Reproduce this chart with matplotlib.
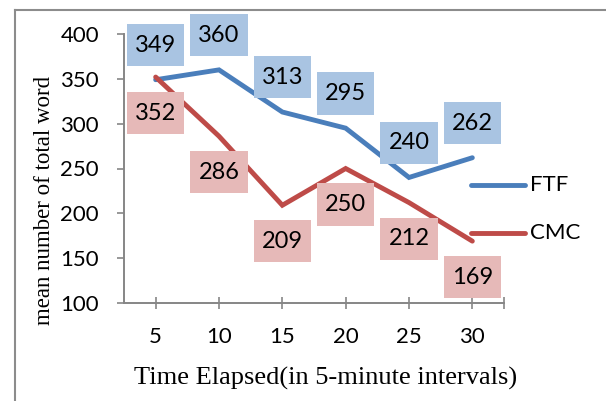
import matplotlib
matplotlib.use("Agg")
import matplotlib.pyplot as plt
from matplotlib.lines import Line2D
from matplotlib.path import Path

# mean number of total words per 5-minute interval
minutes = [5, 10, 15, 20, 25, 30]
ftf = [349, 360, 313, 295, 240, 262]
cmc = [352, 286, 209, 250, 212, 169]
y_ticks = [100, 150, 200, 250, 300, 350, 400]

blue = "#4A7EBB"
red = "#BE4B48"
blue_box = "#A9C4E2"
red_box = "#E6B9B8"
axis_gray = "#868686"
num_font = "Lato"
W, H = 606, 401


def label_box(x0, y0, width, height, mutation_size):
    # rectangle with more padding above/below than at the sides
    px = 0.34 * mutation_size
    py = 0.45 * mutation_size
    x0, y0 = x0 - px, y0 - py
    x1, y1 = x0 + width + 2 * px, y0 + height + 2 * py
    return Path([(x0, y0), (x1, y0), (x1, y1), (x0, y1), (x0, y0)], closed=True)


fig = plt.figure(figsize=(W / 100, H / 100), dpi=100)

# chart frame
fig.add_artist(Line2D([15 / W, 1], [1 - 10 / H, 1 - 10 / H], color="#8C8C8C", lw=1.5))
fig.add_artist(Line2D([15 / W, 15 / W], [0, 1 - 10 / H], color="#8C8C8C", lw=1.5))

ax = fig.add_axes([124 / W, 1 - 303 / H, 380 / W, 269 / H])
ax.plot(minutes, ftf, color=blue, lw=3.5, solid_capstyle="round", solid_joinstyle="miter")
ax.plot(minutes, cmc, color=red, lw=3.5, solid_capstyle="round", solid_joinstyle="miter")

ax.set_xlim(2.5, 32.5)
ax.set_ylim(100, 400)
ax.set_xticks(minutes + [32.5])
ax.set_xticklabels([str(m) for m in minutes] + [""])
ax.set_yticks(y_ticks)

for s in ["top", "right"]:
    ax.spines[s].set_visible(False)
for s in ["left", "bottom"]:
    ax.spines[s].set_color(axis_gray)
    ax.spines[s].set_linewidth(1.4)

ax.tick_params(axis="y", direction="out", length=5, width=1.2, color=axis_gray,
               labelsize=16, pad=13)
ax.tick_params(axis="x", direction="inout", length=8.5, width=1.2, color=axis_gray,
               labelsize=16, pad=13)
for lab in ax.get_xticklabels() + ax.get_yticklabels():
    lab.set_fontfamily(num_font)

# value labels
for x, v in zip(minutes, ftf):
    ax.annotate(str(v), (x, v), xytext=(0, 25), textcoords="offset points",
                ha="center", va="center", fontsize=17, family=num_font,
                bbox=dict(boxstyle=label_box, fc=blue_box, ec="none"))
for x, v in zip(minutes, cmc):
    ax.annotate(str(v), (x, v), xytext=(0, -26), textcoords="offset points",
                ha="center", va="center", fontsize=17, family=num_font,
                bbox=dict(boxstyle=label_box, fc=red_box, ec="none"))

# legend
for name, col, ypx in [("FTF", blue, 185), ("CMC", red, 233)]:
    fig.add_artist(Line2D([471 / W, 525 / W], [1 - ypx / H, 1 - ypx / H], color=col,
                          lw=3.5, solid_capstyle="round"))
    fig.text(530 / W, 1 - ypx / H, name, fontsize=16, family=num_font, va="center")

fig.text(326 / W, 1 - 378 / H, "Time Elapsed(in 5-minute intervals)", fontsize=19,
         family="Liberation Serif", ha="center", va="center")
fig.text(45 / W, 1 - 200 / H, "mean number of total word", fontsize=16.5,
         family="Liberation Serif", ha="center", va="center", rotation=90)

fig.savefig("out.png", dpi=100)
